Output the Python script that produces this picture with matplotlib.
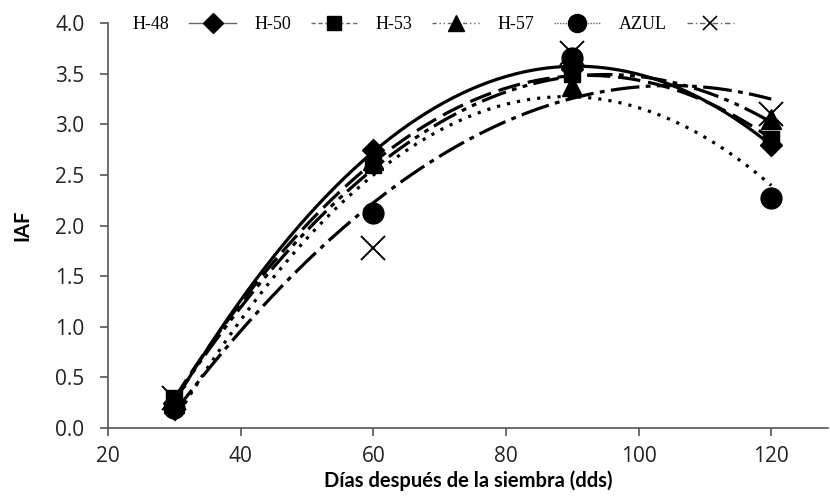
import numpy as np
import matplotlib
matplotlib.use("Agg")
import matplotlib.pyplot as plt
from matplotlib.lines import Line2D

days = [30, 60, 90, 120]
series_names = ["H-48", "H-50", "H-53", "H-57", "AZUL"]
h48 = [0.25, 2.75, 3.55, 2.80]
h50 = [0.30, 2.60, 3.50, 2.85]
h53 = [0.25, 2.65, 3.38, 3.05]
h57 = [0.20, 2.12, 3.65, 2.27]
azul = [0.30, 1.78, 3.70, 3.10]

x_ticks = [20, 40, 60, 80, 100, 120]
y_ticks = [0.0, 0.5, 1.0, 1.5, 2.0, 2.5, 3.0, 3.5, 4.0]

values = [h48, h50, h53, h57, azul]
markers = ["D", "s", "^", "o", "x"]
msizes = [11, 12, 14, 15, 17]
trend_styles = ["-", (0, (7, 2.5)), (0, (8, 2, 1.5, 2, 1.5, 2)), (0, (1, 2.2)), (0, (9, 2, 1.5, 2))]
legend_styles = ["-", (0, (3, 2)), (0, (3, 2, 1, 2, 1, 2)), (0, (1, 1)), (0, (4, 2, 1, 2))]
legend_ms = [10, 10, 12, 13, 10]

fig = plt.figure(figsize=(8.3, 4.99), dpi=100)
ax = fig.add_axes([0.130, 0.142, 0.868, 0.812])

xs = np.linspace(30, 120, 200)
for vals, ls in zip(values, trend_styles):
    coef = np.polyfit(days, vals, 2)
    ax.plot(xs, np.polyval(coef, xs), color="black", lw=2.3, linestyle=ls, zorder=2)

for vals, m, ms in zip(values, markers, msizes):
    if m == "x":
        ax.plot(days, vals, linestyle="none", marker=m, ms=ms, mew=1.4, color="black", zorder=3)
    else:
        ax.plot(days, vals, linestyle="none", marker=m, ms=ms, color="black", zorder=3)

ax.set_xlim(20, 128.6)
ax.set_ylim(0, 4)
ax.set_xticks(x_ticks)
ax.set_yticks(y_ticks)
ax.set_yticklabels([f"{v:.1f}" for v in y_ticks])
for s in ["top", "right"]:
    ax.spines[s].set_visible(False)
for s in ["left", "bottom"]:
    ax.spines[s].set_color("#555555")
    ax.spines[s].set_linewidth(1.2)
ax.tick_params(direction="out", length=6, width=1.2, color="#555555", labelsize=15, labelcolor="#222222")
ax.tick_params(axis="y", pad=11)
ax.tick_params(axis="x", pad=7)
for lab in ax.get_xticklabels() + ax.get_yticklabels():
    lab.set_fontfamily("Open Sans")
ax.set_xlabel("Días después de la siembra (dds)", fontsize=14.5, fontweight="bold", family="Lato", labelpad=2)
ax.set_ylabel("IAF", fontsize=14.5, fontweight="bold", family="Lato", labelpad=16)

handles = []
for m, ms, ls in zip(markers, legend_ms, legend_styles):
    handles.append(Line2D([0], [0], color="#666666", lw=1.0, linestyle=ls, marker=m,
                          ms=ms, mfc="black", mec="black", mew=1.2 if m == "x" else 1.0))
leg = fig.legend(handles, series_names, loc="upper left", bbox_to_anchor=(0.140, 1.0),
                 ncol=5, frameon=False, markerfirst=False, handlelength=2.6,
                 columnspacing=1.0, handletextpad=1.1,
                 prop={"family": "Liberation Serif", "size": 13})

fig.savefig("out.png", dpi=100)
